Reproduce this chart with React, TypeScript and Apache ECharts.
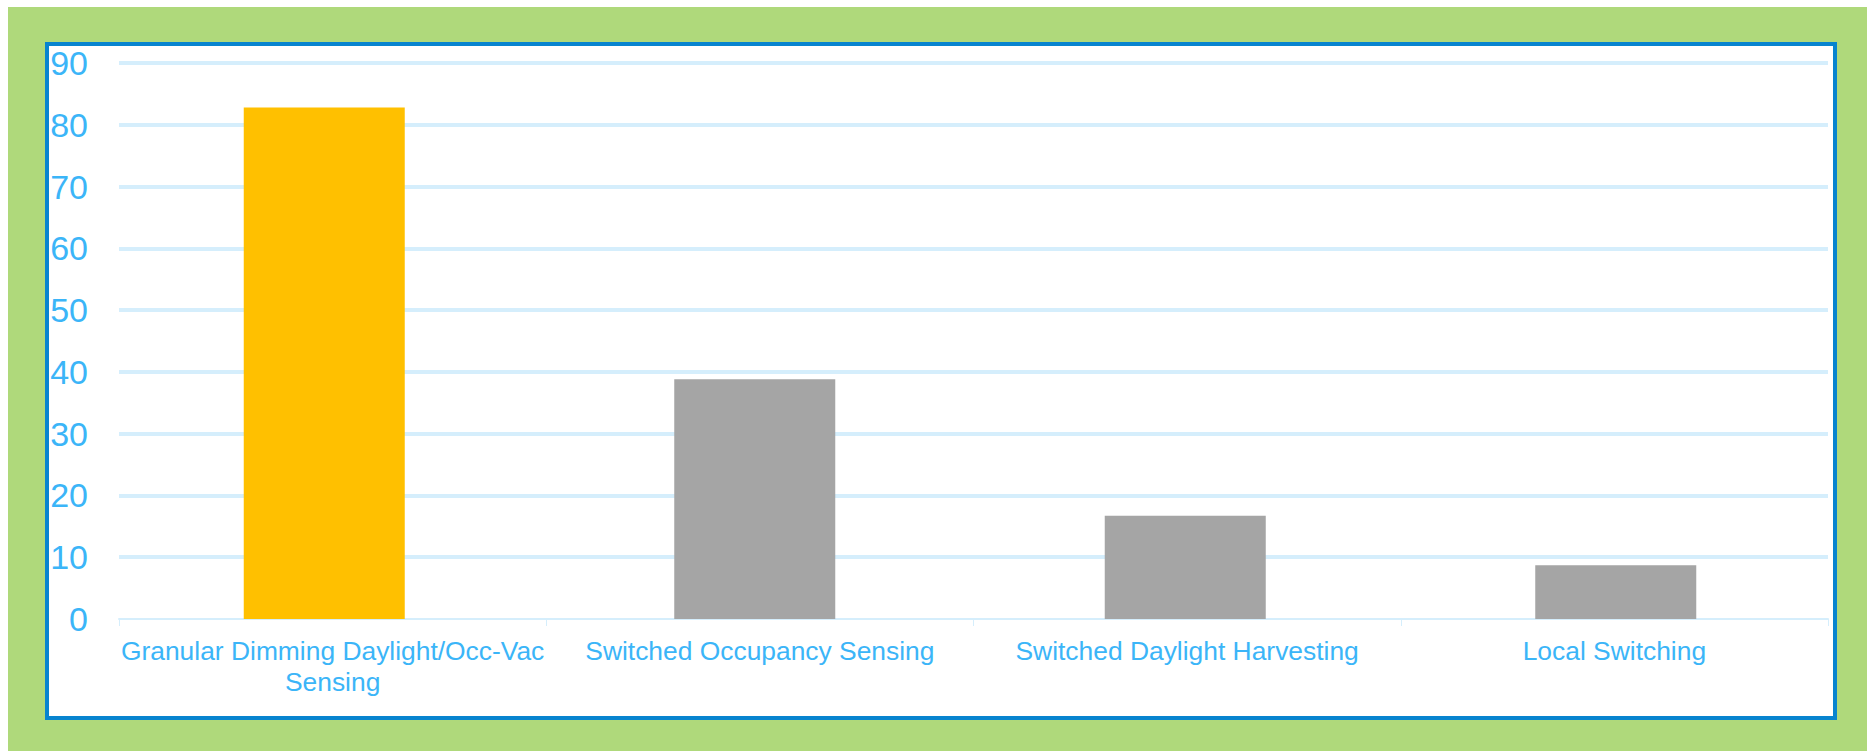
import React, { useEffect, useRef } from "react";
import * as echarts from "echarts";

const categories = [
  "Granular Dimming Daylight/Occ-Vac\nSensing",
  "Switched Occupancy Sensing",
  "Switched Daylight Harvesting",
  "Local Switching",
];
const values = [82.8, 38.8, 16.7, 8.7];
const barColors = ["#FFC000", "#A5A5A5", "#A5A5A5", "#A5A5A5"];
const yTicks = { min: 0, max: 90, interval: 10 };

const LABEL = "#3BB5F8";
const GRID = "#D5EEFC";
const FONT = "Liberation Sans, Arial, sans-serif";

export default function App() {
  const ref = useRef<HTMLDivElement>(null);
  useEffect(() => {
    if (!ref.current) return;
    const chart = echarts.init(ref.current, undefined, { renderer: "svg" });
    chart.setOption({
      animation: false,
      backgroundColor: "#ffffff",
      graphic: [
        {
          type: "rect",
          z: -10,
          silent: true,
          shape: { x: 8, y: 7, width: 1859, height: 744 },
          style: { fill: "#AFD97B" },
        },
        {
          type: "rect",
          z: -9,
          silent: true,
          shape: { x: 47, y: 44, width: 1788, height: 674 },
          style: { fill: "#ffffff", stroke: "#0784CF", lineWidth: 4 },
        },
      ],
      grid: [
        { left: 119, right: 45, top: 63, bottom: 133, containLabel: false },
        { left: 109, right: 42, top: 63, bottom: 133, containLabel: false },
      ],
      xAxis: [
        {
          type: "category",
          gridIndex: 0,
          data: categories,
          axisLine: { show: true, lineStyle: { color: GRID, width: 2 } },
          axisTick: { show: true, length: 7, lineStyle: { color: GRID, width: 1 } },
          axisLabel: {
            interval: 0,
            color: LABEL,
            fontFamily: FONT,
            fontSize: 26.4,
            lineHeight: 31,
            margin: 16,
          },
          splitLine: { show: false },
        },
        {
          type: "category",
          gridIndex: 1,
          data: categories,
          show: false,
        },
      ],
      yAxis: [
        {
          type: "value",
          gridIndex: 0,
          min: yTicks.min,
          max: yTicks.max,
          interval: yTicks.interval,
          axisLine: { show: false },
          axisTick: { show: false },
          axisLabel: {
            color: LABEL,
            fontFamily: FONT,
            fontSize: 34,
            margin: 31,
          },
          splitLine: {
            show: true,
            showMinLine: false,
            lineStyle: { color: GRID, width: 4 },
          },
        },
        {
          type: "value",
          gridIndex: 1,
          min: yTicks.min,
          max: yTicks.max,
          interval: yTicks.interval,
          show: false,
          splitLine: { show: false },
        },
      ],
      series: [
        {
          type: "bar",
          xAxisIndex: 1,
          yAxisIndex: 1,
          barWidth: 161,
          data: values.map((v, i) => ({
            value: v,
            itemStyle: { color: barColors[i] },
          })),
        },
      ],
    });
    return () => chart.dispose();
  }, []);
  return (
    <div
      ref={ref}
      style={{ position: "absolute", left: 0, top: 0, width: 1873, height: 752 }}
    />
  );
}
